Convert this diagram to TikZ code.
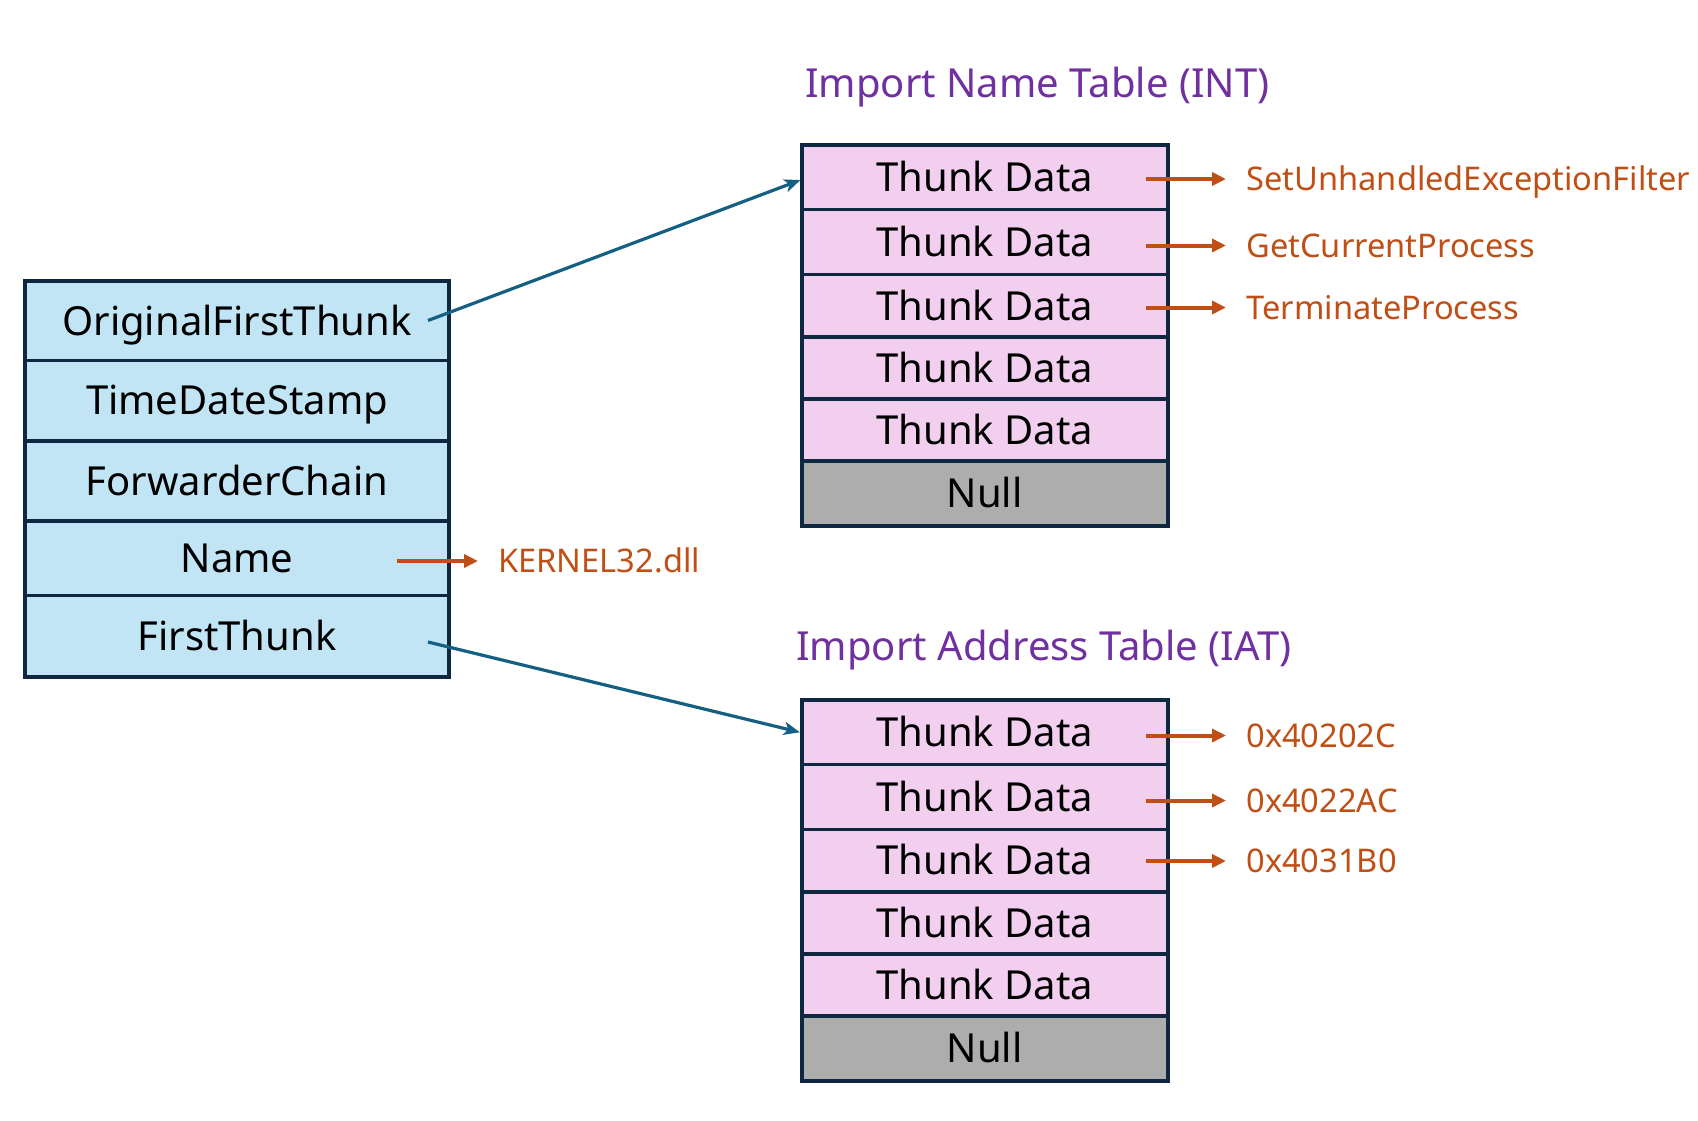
\documentclass[tikz,border=0pt]{standalone}
\usepackage{fontspec}
\setmainfont{Noto Sans}
\usetikzlibrary{arrows.meta,calc}
\definecolor{navy}{HTML}{0E2841}
\definecolor{lblue}{HTML}{C1E5F5}
\definecolor{lpink}{HTML}{F2CEEF}
\definecolor{lgray}{HTML}{ADADAD}
\definecolor{orng}{HTML}{C04F15}
\definecolor{purp}{HTML}{7030A0}
\definecolor{tblue}{HTML}{156082}
\tikzset{
  cell/.style={draw=navy, line width=1.8pt, inner sep=0pt, minimum height=#1,
    text height=14.3pt, text depth=0pt, font=\fontsize{20}{24}\selectfont},
  fld/.style={cell=#1, fill=lblue, minimum width=212pt},
  thk/.style={cell=#1, fill=lpink, minimum width=183pt},
  nul/.style={cell=#1, fill=lgray, minimum width=183pt},
  ttl/.style={text=purp, anchor=west, inner sep=0pt, text height=14.3pt, text depth=0pt,
    font=\fontsize{20}{24}\selectfont},
  lab/.style={text=orng, anchor=west, inner xsep=10pt, inner ysep=0pt, text height=11.6pt,
    text depth=0pt, font=\fontsize{16.3}{19}\selectfont},
  oarr/.style={draw=orng, line width=2pt, -{Triangle[length=7pt,width=6.5pt]}},
  barr/.style={draw=tblue, line width=1.6pt, -{Stealth[length=8pt,width=6.5pt,inset=2pt]}}
}
\begin{document}
\begin{tikzpicture}[x=0.5pt,y=-0.5pt]
\useasboundingbox[fill=white] (0,0) rectangle (1698,1120);

% left structure
\node[fld=39.8pt]  (oft)  at (237,320.8)  {OriginalFirstThunk};
\node[fld=40.05pt] (tds)  at (237,400.65) {TimeDateStamp};
\node[fld=40.1pt]  (fwc)  at (237,480.8)  {ForwarderChain};
\node[fld=37.35pt] (nam)  at (237,558.25) {Name};
\node[fld=40.6pt]  (ft)   at (237,636.2)  {FirstThunk};

% INT
\node[ttl] (intT) at (805,83) {Import Name Table (INT)};
\node[thk=32.25pt] (i1) at (984.7,177.25) {Thunk Data};
\node[thk=32.5pt]  (i2) at (984.7,242)    {Thunk Data};
\node[thk=31.25pt] (i3) at (984.7,305.75) {Thunk Data};
\node[thk=31pt]    (i4) at (984.7,368)    {Thunk Data};
\node[thk=31pt]    (i5) at (984.7,430)    {Thunk Data};
\node[nul=32.5pt]  (i6) at (984.7,493.5)  {Null};

% IAT
\node[ttl] (iatT) at (796,646.5) {Import Address Table (IAT)};
\node[thk=32.25pt] (a1) at (984.7,732.25) {Thunk Data};
\node[thk=32.4pt]  (a2) at (984.7,796.9)  {Thunk Data};
\node[thk=31.2pt]  (a3) at (984.7,860.5)  {Thunk Data};
\node[thk=31.15pt] (a4) at (984.7,922.85) {Thunk Data};
\node[thk=30.85pt] (a5) at (984.7,984.85) {Thunk Data};
\node[nul=32.5pt]  (a6) at (984.7,1048.2) {Null};

% labels
\node[lab] (l1) at (1226,179)   {SetUnhandledExceptionFilter};
\node[lab] (l2) at (1226,245.5) {GetCurrentProcess};
\node[lab] (l3) at (1226,307.5) {TerminateProcess};
\node[lab] (m1) at (1226,735.5) {0x40202C};
\node[lab] (m2) at (1226,800.5) {0x4022AC};
\node[lab] (m3) at (1226,861)   {0x4031B0};
\node[lab] (kn) at (478,561)    {KERNEL32.dll};

% orange arrow starts
\coordinate (s1) at (1146,179);
\coordinate (s2) at (1146,245.5);
\coordinate (s3) at (1146,307.5);
\coordinate (t1) at (1146,735.5);
\coordinate (t2) at (1146,800.5);
\coordinate (t3) at (1146,861);
\coordinate (sn) at (397,561);

\draw[oarr] (s1) -- (l1.west);
\draw[oarr] (s2) -- (l2.west);
\draw[oarr] (s3) -- (l3.west);
\draw[oarr] (t1) -- (m1.west);
\draw[oarr] (t2) -- (m2.west);
\draw[oarr] (t3) -- (m3.west);
\draw[oarr] (sn) -- (kn.west);

% blue arrows
\coordinate (bo) at (428,320.5);
\coordinate (bf) at (428,642);
\coordinate (eo) at (800.5,180);
\draw[barr] (bo) -- (eo);
\draw[barr] (bf) -- (a1.west);
\end{tikzpicture}
\end{document}
